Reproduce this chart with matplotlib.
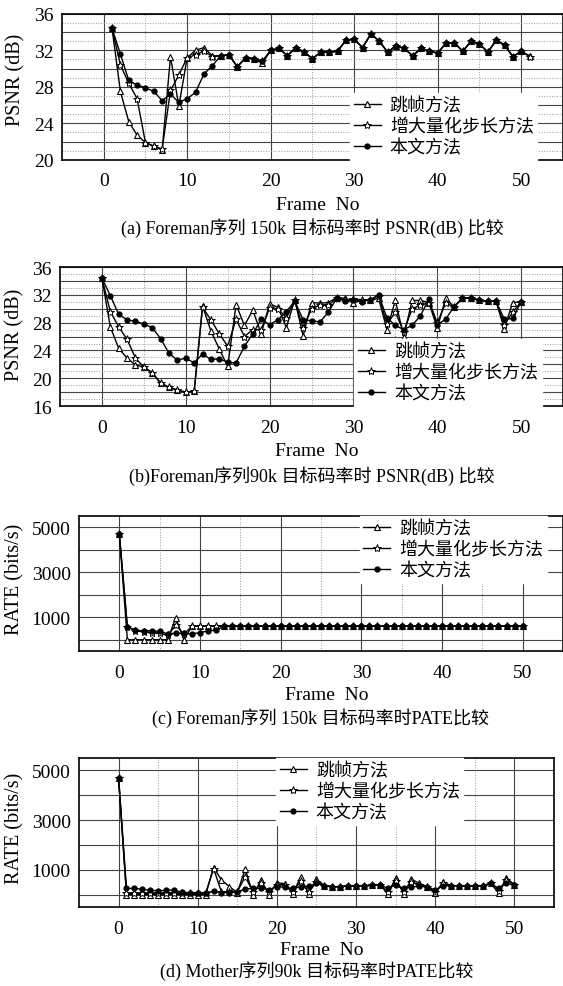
import matplotlib
matplotlib.use('Agg')
import matplotlib.pyplot as plt
from matplotlib.ticker import FuncFormatter

plt.rcParams['font.family'] = ['Liberation Serif', 'Noto Sans CJK SC']

labels = ['跳帧方法', '增大量化步长方法', '本文方法']

# (a) Foreman 150k PSNR
frames_a = list(range(1, 52))
skip_a = [34.4, 27.5, 24.2, 22.7, 21.9, 21.5, 21.1, 31.3, 25.9, 31.2,
          32.0, 32.3, 31.4, 31.4, 31.5, 30.2, 31.2, 31.0, 30.6, 32.0,
          32.2, 31.4, 32.3, 31.8, 31.1, 31.8, 31.8, 31.9, 33.1, 33.2,
          32.3, 33.8, 33.0, 31.8, 32.5, 32.2, 31.4, 32.2, 31.9, 31.7,
          32.8, 32.8, 31.9, 33.0, 32.7, 31.8, 33.1, 32.6, 31.3, 31.9, 31.4]
qstep_a = [34.4, 30.4, 28.4, 26.7, 21.9, 21.5, 21.2, 27.6, 29.3, 31.2,
           31.5, 31.9, 31.3, 31.4, 31.5, 30.2, 31.2, 31.1, 30.8, 32.0,
           32.2, 31.4, 32.3, 31.8, 31.1, 31.8, 31.8, 31.9, 33.1, 33.2,
           32.3, 33.8, 33.0, 31.8, 32.5, 32.2, 31.4, 32.2, 31.9, 31.7,
           32.8, 32.8, 31.9, 33.0, 32.7, 31.8, 33.1, 32.6, 31.3, 31.9, 31.3]
ours_a = [34.4, 31.6, 28.7, 28.2, 27.9, 27.5, 26.5, 27.2, 26.3, 26.7,
          27.4, 29.4, 30.3, 31.4, 31.5, 30.2, 31.2, 31.1, 30.8, 32.0,
          32.2, 31.4, 32.3, 31.8, 31.1, 31.8, 31.8, 31.9, 33.1, 33.2,
          32.3, 33.8, 33.0, 31.8, 32.5, 32.2, 31.4, 32.2, 31.9, 31.7,
          32.8, 32.8, 31.9, 33.0, 32.7, 31.8, 33.1, 32.6, 31.3, 31.9]

# (b) Foreman 90k PSNR
frames_b = list(range(0, 51))
skip_b = [34.4, 27.4, 24.3, 22.9, 21.9, 21.6, 20.8, 19.3, 18.7, 18.3,
          18.0, 18.1, 30.4, 26.8, 24.2, 21.7, 30.6, 27.6, 29.8, 26.4,
          30.7, 30.2, 27.3, 31.3, 26.1, 30.9, 30.8, 30.9, 31.6, 31.5,
          30.8, 31.3, 31.2, 31.5, 27.0, 31.2, 26.0, 31.2, 31.2, 30.9,
          27.2, 31.5, 30.3, 31.5, 31.6, 31.2, 31.1, 31.1, 27.1, 30.9, 31.0]
qstep_b = [34.4, 29.6, 27.4, 25.6, 22.9, 21.6, 20.8, 19.3, 18.7, 18.3,
           18.0, 18.1, 30.2, 28.4, 26.4, 24.6, 28.5, 26.0, 27.0, 27.0,
           30.1, 30.0, 28.7, 31.2, 27.2, 30.0, 30.5, 30.5, 31.5, 31.3,
           31.4, 31.3, 31.2, 31.9, 27.8, 29.5, 26.7, 30.0, 30.5, 30.9,
           28.0, 30.8, 30.3, 31.5, 31.6, 31.2, 31.1, 31.1, 27.7, 29.5, 31.0]
ours_b = [34.4, 31.9, 29.2, 28.4, 28.2, 27.8, 27.3, 25.7, 23.6, 22.6,
          22.9, 22.2, 23.5, 22.7, 22.8, 22.3, 22.2, 24.6, 26.4, 28.5,
          27.7, 28.4, 29.6, 31.1, 28.4, 28.3, 28.1, 29.5, 31.5, 31.1,
          31.3, 31.0, 31.3, 32.0, 28.7, 27.6, 27.0, 27.6, 29.0, 31.4,
          27.7, 28.5, 30.3, 31.5, 31.6, 31.2, 31.1, 31.1, 28.5, 28.6, 31.0]

# (c) Foreman 150k RATE
frames_c = list(range(0, 51))
skip_c = [4700, 0, 0, 0, 0, 0, 0, 980, 0, 600,
          600, 600, 600, 600, 600, 600, 600, 600, 600, 600,
          600, 600, 600, 600, 600, 600, 600, 600, 600, 600,
          600, 600, 600, 600, 600, 600, 600, 600, 600, 600,
          600, 600, 600, 600, 600, 600, 600, 600, 600, 600, 600]
qstep_c = [4700, 570, 400, 350, 300, 280, 200, 650, 250, 600,
           600, 600, 600, 600, 600, 600, 600, 600, 600, 600,
           600, 600, 600, 600, 600, 600, 600, 600, 600, 600,
           600, 600, 600, 600, 600, 600, 600, 600, 600, 600,
           600, 600, 600, 600, 600, 600, 600, 600, 600, 600, 600]
ours_c = [4700, 570, 420, 400, 400, 370, 260, 300, 280, 260,
          320, 390, 430, 600, 600, 600, 600, 600, 600, 600,
          600, 600, 600, 600, 600, 600, 600, 600, 600, 600,
          600, 600, 600, 600, 600, 600, 600, 600, 600, 600,
          600, 600, 600, 600, 600, 600, 600, 600, 600, 600, 600]

# (d) Mother 90k RATE
frames_d = list(range(0, 51))
skip_d = [4700, 0, 0, 0, 0, 0, 0, 0, 0, 0,
          0, 0, 1090, 590, 320, 80, 1030, 0, 590, 0,
          480, 440, 40, 700, 40, 620, 360, 320, 320, 350,
          360, 360, 370, 400, 40, 660, 40, 620, 450, 320,
          80, 500, 360, 360, 360, 360, 360, 450, 80, 660, 400]
qstep_d = [4700, 50, 50, 50, 50, 50, 50, 50, 50, 50,
           50, 50, 1050, 100, 100, 120, 720, 100, 450, 100,
           400, 380, 100, 550, 100, 500, 360, 320, 320, 350,
           360, 360, 370, 400, 100, 550, 100, 500, 400, 320,
           100, 450, 360, 360, 360, 360, 360, 450, 150, 600, 400]
ours_d = [4700, 250, 250, 220, 170, 160, 170, 190, 90, 80,
          80, 80, 130, 80, 80, 120, 220, 260, 250, 200,
          320, 300, 250, 320, 330, 450, 360, 320, 320, 350,
          360, 360, 370, 400, 250, 390, 250, 320, 330, 320,
          180, 360, 360, 360, 360, 360, 360, 450, 250, 450, 400]

panels = [
    dict(rect=[0.110, 0.837, 0.890, 0.148], frames=(frames_a, frames_a, frames_a[:50]),
         ys=(skip_a, qstep_a, ours_a), ylim=(20, 36), ystep=2, yshow=[20, 24, 28, 32, 36],
         ylabel='PSNR (dB)', ylab_xy=(-0.072, 0.555),
         leg=dict(loc='lower left', bbox_to_anchor=(0.575, 0.0)),
         xlab_y=205, cap_y=228,
         cap='(a) Foreman序列 150k 目标码率时 PSNR(dB) 比较'),
    dict(rect=[0.1066, 0.5876, 0.8934, 0.1408], frames=(frames_b, frames_b, frames_b),
         ys=(skip_b, qstep_b, ours_b), ylim=(16, 36), ystep=2, yshow=[16, 20, 24, 28, 32, 36],
         ylabel='PSNR (dB)', ylab_xy=(-0.07, 0.52),
         leg=dict(loc='lower left', bbox_to_anchor=(0.585, 0.0)),
         xlab_y=451, cap_y=476,
         cap='(b)Foreman序列90k 目标码率时 PSNR(dB) 比较'),
    dict(rect=[0.1403, 0.3394, 0.8597, 0.1368], frames=(frames_c, frames_c, frames_c),
         ys=(skip_c, qstep_c, ours_c), ylim=(-500, 5500), ystep=1000, yshow=[1000, 3000, 5000],
         ylabel='RATE (bits/s)', ylab_xy=(-0.112, 0.54),
         leg=dict(loc='upper left', bbox_to_anchor=(0.58, 1.0)),
         xlab_y=695, cap_y=718,
         cap='(c) Foreman序列 150k 目标码率时PATE比较'),
    dict(rect=[0.1403, 0.0800, 0.8437, 0.151], frames=(frames_d, frames_d, frames_d),
         ys=(skip_d, qstep_d, ours_d), ylim=(-500, 5500), ystep=1000, yshow=[1000, 3000, 5000],
         ylabel='RATE (bits/s)', ylab_xy=(-0.114, 0.537),
         leg=dict(loc='upper left', bbox_to_anchor=(0.415, 1.0)),
         xlab_y=951, cap_y=971,
         cap='(d) Mother序列90k 目标码率时PATE比较'),
]

styles = [
    dict(marker='^', markersize=5, markerfacecolor='white', markeredgecolor='black', markeredgewidth=0.8),
    dict(marker='*', markersize=6, markerfacecolor='white', markeredgecolor='black', markeredgewidth=0.7),
    dict(marker='o', markersize=3.5, markerfacecolor='black', markeredgecolor='black'),
]

W, H = 563, 987
fig = plt.figure(figsize=(W / 100, H / 100), dpi=100)

for p in panels:
    ax = fig.add_axes(p['rect'])
    for fr, y, lab, st in zip(p['frames'], p['ys'], labels, styles):
        ax.plot(fr, y, color='black', linewidth=1.0, label=lab, **st)

    ax.set_xlim(-5, 55)
    ax.set_ylim(*p['ylim'])
    ax.set_xticks(range(0, 51, 10))
    ax.set_xticks(range(5, 55, 10), minor=True)
    lo, hi = p['ylim']
    step = p['ystep']
    start = lo if lo % step == 0 else 0
    ax.set_yticks(range(start, hi + 1, step))
    ax.set_yticks(range(lo + step // 2, hi, step), minor=True)
    shown = p['yshow']
    ax.yaxis.set_major_formatter(FuncFormatter(lambda v, pos, s=shown: '%d' % v if int(round(v)) in s else ''))

    ax.grid(which='major', color='#444444', linewidth=0.8, linestyle='-')
    ax.grid(which='minor', color='#999999', linewidth=0.7, linestyle=':')
    ax.set_axisbelow(True)
    ax.tick_params(which='both', length=0, labelsize=14)
    ax.tick_params(axis='y', pad=6)
    ax.tick_params(axis='x', pad=9)
    for s in ax.spines.values():
        s.set_linewidth(1.2)
        s.set_color('black')

    ax.set_ylabel(p['ylabel'], fontsize=14.5)
    ax.yaxis.set_label_coords(*p['ylab_xy'])

    ax.legend(frameon=True, fancybox=False, framealpha=1, edgecolor='white',
              fontsize=13, handlelength=1.5, handletextpad=0.5,
              labelspacing=0.22, borderpad=0.2, borderaxespad=0, **p['leg'])

    cx = (p['rect'][0] + p['rect'][2] / 2) * W
    fig.text(cx / W + 0.01, 1 - p['xlab_y'] / H, 'Frame  No', fontsize=14, ha='center', va='center')
    fig.text(cx / W, 1 - p['cap_y'] / H, p['cap'], fontsize=13, ha='center', va='center')

fig.savefig('out.png', dpi=100, facecolor='white')
